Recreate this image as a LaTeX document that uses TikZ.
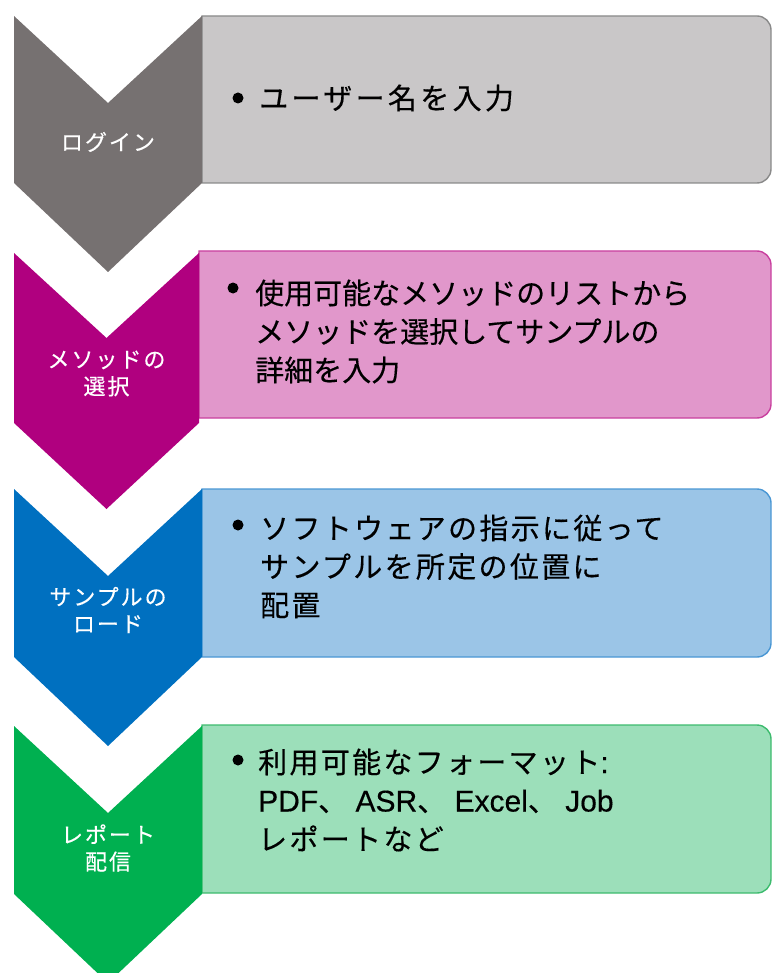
\documentclass[tikz,border=0pt]{standalone}
\usepackage{fontspec}
\setmainfont{Noto Sans CJK JP}[FakeBold=0.35]
\newfontfamily\latfam{Liberation Sans}[FakeBold=0.35]
\newcommand\latf{\latfam\fontsize{30}{38.5}\selectfont}
\definecolor{cgray}{HTML}{767171}
\definecolor{cmag}{HTML}{B0007F}
\definecolor{cblue}{HTML}{0070C0}
\definecolor{cgreen}{HTML}{00B050}
\definecolor{fgray}{HTML}{C9C7C8}\definecolor{lgray}{HTML}{8A8A8A}
\definecolor{fmag}{HTML}{E197CB}\definecolor{lmag}{HTML}{C9409F}
\definecolor{fblue}{HTML}{9BC5E7}\definecolor{lblue}{HTML}{4A97D4}
\definecolor{fgreen}{HTML}{9CDFBA}\definecolor{lgreen}{HTML}{3DBB6E}
\newcommand\rbox[5]{\path[fill=#4,draw=#5,line width=1.4pt] (#1,#2) -- (757,#2) .. controls (764.7,#2) and (771,#2+6.3) .. (771,#2+14) -- (771,#3-14) .. controls (771,#3-6.3) and (764.7,#3) .. (757,#3) -- (#1,#3) -- cycle;}
\newcommand\chevr[8]{\fill[#7] (#1,#3) -- (#4,#3+#5) -- (#2,#3) -- (#2,#6) -- (#4,#6+#8) -- (#1,#6) -- cycle;}
\begin{document}
\begin{tikzpicture}[x=1pt,y=-1pt,
  bodytext/.style={anchor=base west,inner sep=0pt,text=black,font=\fontsize{29}{38.5}\selectfont\addfontfeatures{LetterSpace=8}},
  widetext/.style={bodytext,font=\fontsize{29}{38.5}\selectfont\addfontfeatures{LetterSpace=11.5}},
  tighttext/.style={bodytext,font=\fontsize{29}{38.5}\selectfont},
  steplabel/.style={anchor=center,inner sep=0pt,align=center,text=white,font=\fontsize{22}{27}\selectfont\addfontfeatures{LetterSpace=9}},
  bulletdot/.style={circle,fill=black,inner sep=0pt,minimum size=11pt}]
\useasboundingbox (0,0) rectangle (772,973);
\clip (0,0) rectangle (772,973);
% boxes
\rbox{202}{16}{183}{fgray}{lgray}
\rbox{199}{251}{418}{fmag}{lmag}
\rbox{202}{489}{657}{fblue}{lblue}
\rbox{202}{725}{893}{fgreen}{lgreen}
% chevrons
\chevr{14}{202}{16}{108}{87}{183}{cgray}{89}
\chevr{14}{199}{253}{106.5}{85}{423}{cmag}{86}
\chevr{14}{202}{489}{108}{87}{657}{cblue}{89}
\chevr{14}{202}{726}{108}{87}{894}{cgreen}{89}
% labels
\node[steplabel] (l1) at (108,142) {ログイン};
\node[steplabel] (l2) at (106.5,373.5) {メソッドの\\選択};
\node[steplabel] (l3) at (108,610) {サンプルの\\ロード};
\node[steplabel] (l4) at (108,848) {レポート\\配信};
% bullets
\node[bulletdot] (b1) at (238,98) {};
\node[bulletdot] (b2) at (233,288) {};
\node[bulletdot] (b3) at (238,525) {};
\node[bulletdot] (b4) at (238,760) {};
% texts
\node[widetext] (t1) at (259,109) {ユーザー名を入力};
\node[tighttext] (t2a) at (255,304) {使用可能なメソッドのリストから};
\node[tighttext] (t2b) at (255,342.5) {メソッドを選択してサンプルの};
\node[tighttext] (t2c) at (255,381) {詳細を入力};
\node[bodytext] (t3a) at (260,539) {ソフトウェアの指示に従って};
\node[bodytext] (t3b) at (260,577.5) {サンプルを所定の位置に};
\node[bodytext] (t3c) at (260,616) {配置};
\node[bodytext] (t4a) at (258,773) {利用可能なフォーマット{\latf:}};
\node[bodytext] (t4b) at (258,811.5) {{\latf PDF}、{\latf\ ASR}、{\latf\ Excel}、{\latf\ Job}};
\node[bodytext] (t4c) at (258,850) {レポートなど};
\end{tikzpicture}
\end{document}
